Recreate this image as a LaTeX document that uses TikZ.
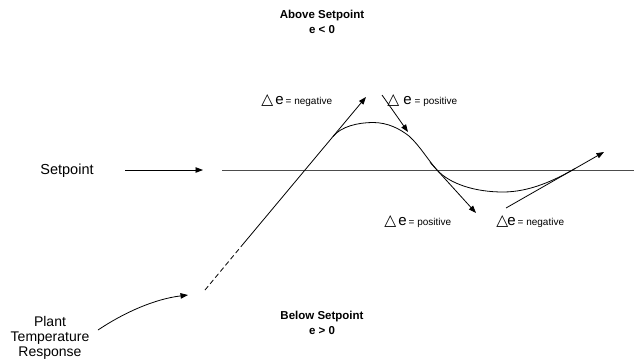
\documentclass[tikz,border=0pt]{standalone}
\usepackage{fontspec}
\setmainfont{Liberation Sans}
\newfontfamily\symfont{DejaVu Sans}
\usetikzlibrary{arrows.meta}
\newcommand\dtri{{\symfont\fontsize{15.5}{15.5}\selectfont △}}
\newcommand\ebig{{\fontsize{15}{15}\selectfont e}}
\newcommand\eqsmall{\fontsize{10}{10}\selectfont}
\begin{document}
\begin{tikzpicture}[x=1pt,y=-1pt,
  line width=0.8pt,
  arr/.style={-{Triangle[length=7.5pt,width=5.5pt]}},
  title/.style={font=\fontsize{11.5}{15}\selectfont\bfseries, align=center},
  lbl/.style={anchor=base west, inner sep=0pt},
  spline/.style={draw=black!70, line width=0.9pt},
]
\useasboundingbox (0,0) rectangle (634,362);
% titles
\node[title] (above) at (322,22) {Above Setpoint\\e < 0};
\node[title] (below) at (322,323) {Below Setpoint\\e > 0};
% setpoint
\node[font=\fontsize{14.5}{15}\selectfont, anchor=base west, inner sep=0pt] (sp) at (40,174) {Setpoint};
\coordinate (sa1) at (125,170);
\coordinate (sa2) at (203,170);
\draw[arr] (sa1) -- (sa2);
\coordinate (l1) at (222,170);
\coordinate (l2) at (634,170);
\draw[spline] (l1) -- (l2);
% plant
\node[font=\fontsize{14}{15}\selectfont, align=center, inner sep=0pt] (plant) at (50,338) {Plant\\Temperature\\Response};
\coordinate (pa1) at (98,330);
\coordinate (pa2) at (188,295);
\draw[arr] (pa1) .. controls (125,312) and (155,299) .. (pa2);
% response line
\coordinate (r0) at (205,290);
\coordinate (r1) at (244,243);
\coordinate (r2) at (366,97);
\draw[dash pattern=on 5pt off 3pt] (r0) -- (r1);
\draw[arr] (r1) -- (r2);
% response curve
\coordinate (A) at (333,136.5);
\coordinate (P) at (373,122.5);
\coordinate (B) at (409,136);
\coordinate (C) at (437,170);
\coordinate (T) at (503,192);
\coordinate (D) at (575,168.6);
\draw (A) .. controls (341,126.5) and (358,122.5) .. (P)
          .. controls (388,122.5) and (400,129) .. (B)
          .. controls (420,146) and (428,160) .. (C)
          .. controls (450,184) and (475,192) .. (T)
          .. controls (530,192) and (555,180) .. (D);
% tangent arrows
\coordinate (t1a) at (382,95);
\coordinate (t1b) at (408,132);
\draw[arr] (t1a) -- (t1b);
\coordinate (t2a) at (430,162.3);
\coordinate (t2b) at (476,213);
\draw[arr] (t2a) -- (t2b);
\coordinate (t3a) at (506,208);
\coordinate (t3b) at (604,152);
\draw[arr] (t3a) -- (t3b);
% labels
\node[lbl] (d1) at (261,104) {\dtri\kern2pt\ebig\kern2pt{\eqsmall= negative}};
\node[lbl] (d2) at (387,104) {\dtri\kern4pt\ebig\kern3pt{\eqsmall= positive}};
\node[lbl] (d3) at (384,225) {\dtri\kern2pt\ebig\kern2pt{\eqsmall= positive}};
\node[lbl] (d4) at (496,225) {\dtri\kern-1pt\ebig\kern2pt{\eqsmall= negative}};
\end{tikzpicture}
\end{document}
